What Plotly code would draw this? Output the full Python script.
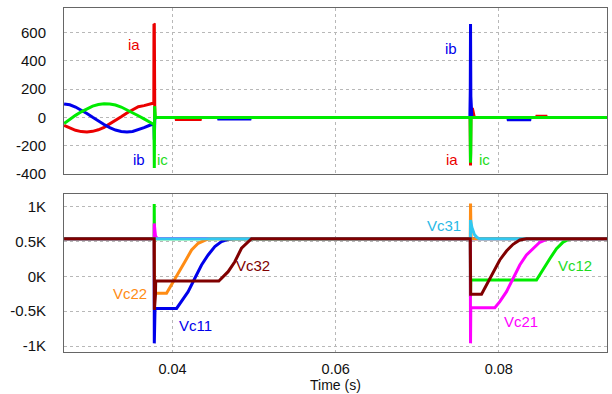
import plotly.graph_objects as go

# ---------------- Top panel: phase currents ----------------
t_ia = [0.0267, 0.0274, 0.0281, 0.0288, 0.0295, 0.0302, 0.0309, 0.0316, 0.0323, 0.0330,
        0.0337, 0.0344, 0.0351, 0.0358, 0.0365, 0.0372, 0.03770, 0.03772, 0.03776, 0.03782,
        0.0380, 0.0404, 0.04045, 0.0434, 0.04345, 0.07648, 0.07653, 0.07658, 0.07675, 0.0770,
        0.0846, 0.08465, 0.0858, 0.08585, 0.0933]
ia = [-56, -75, -91, -100, -103, -98, -87, -70, -47, -22,
      5, 32, 56, 76, 84, 92, 102, 662, 660, 5,
      0, 0, -14, -14, 0, 0, -340, 20, 66, 0,
      0, 8, 8, 0, 0]

t_ib = [0.0267, 0.0274, 0.0281, 0.0288, 0.0295, 0.0302, 0.0309, 0.0316, 0.0323, 0.0330,
        0.0337, 0.0344, 0.0351, 0.0358, 0.0365, 0.0372, 0.03772, 0.03776, 0.03782, 0.0380,
        0.0456, 0.04565, 0.0495, 0.04955, 0.07645, 0.07650, 0.07653, 0.07657, 0.0767,
        0.0811, 0.08115, 0.0838, 0.08385, 0.0858, 0.08585, 0.0880, 0.08805, 0.0933]
ib = [96, 90, 74, 53, 28, 1, -26, -50, -72, -89,
      -99, -103, -99, -88, -72, -55, -45, -158, -10, 0,
      0, -11, -11, 0, 0, 200, 662, 150, 0,
      0, -16, -16, 0, 0, -5, -5, 0, 0]

t_ic = [0.0267, 0.0274, 0.0281, 0.0288, 0.0295, 0.0302, 0.0309, 0.0316, 0.0323, 0.0330,
        0.0337, 0.0344, 0.0351, 0.0358, 0.0365, 0.0372, 0.03772, 0.03776, 0.03780, 0.03790,
        0.07648, 0.07652, 0.07656, 0.0766, 0.0933]
ic = [-42, -12, 15, 40, 62, 80, 92, 97, 96, 88,
      74, 55, 33, 12, -10, -30, -50, -358, 80, 0,
      0, -320, -250, 0, 0]

# ---------------- Bottom panel: capacitor voltages ----------------
t_vc11 = [0.0267, 0.03774, 0.03776, 0.03779, 0.03785, 0.04049, 0.0411, 0.04191, 0.04273,
          0.04355, 0.04436, 0.04518, 0.0460, 0.04681, 0.0475, 0.0933]
vc11 = [540, 540, -962, -460, -460, -460, -364, -220, -28,
        163, 307, 426, 498, 532, 540, 540]

t_vc12 = [0.0267, 0.03774, 0.03775, 0.03778, 0.0765, 0.07652, 0.07656, 0.08462, 0.08543,
          0.08625, 0.08707, 0.08788, 0.08849, 0.0889, 0.0933]
vc12 = [540, 540, 1040, 540, 540, -300, -52, -52, 110,
        253, 397, 492, 527, 540, 540]

t_vc21 = [0.0267, 0.03774, 0.03775, 0.0378, 0.0379, 0.0381, 0.0765, 0.07653, 0.07656,
          0.07951, 0.08012, 0.08094, 0.08175, 0.08257, 0.08339, 0.0842, 0.08502, 0.08584,
          0.0862, 0.0933]
vc21 = [540, 540, 760, 640, 580, 545, 540, -962, -450,
        -450, -364, -220, -28, 163, 307, 403, 489, 532,
        540, 540]

t_vc22 = [0.0267, 0.03774, 0.03776, 0.03780, 0.03926, 0.03988, 0.04069, 0.04151, 0.04233,
          0.04314, 0.04396, 0.04436, 0.0447, 0.07650, 0.07653, 0.07660, 0.0933]
vc22 = [540, 540, 100, -243, -243, -124, 44, 210, 378,
        475, 522, 537, 540, 540, 1044, 540, 540]

t_vc31 = [0.0267, 0.07652, 0.07653, 0.0767, 0.0770, 0.0773, 0.0776, 0.0933]
vc31 = [540, 540, 808, 700, 600, 560, 540, 540]

t_vc32 = [0.0267, 0.03775, 0.03777, 0.03790, 0.03793, 0.04567, 0.04681, 0.04763, 0.04845,
          0.04926, 0.04968, 0.07650, 0.07652, 0.07655, 0.07788, 0.07849, 0.0793, 0.08012,
          0.08094, 0.08175, 0.08257, 0.08339, 0.0933]
vc32 = [540, 540, -480, -270, -66, -66, 67, 210, 403,
        498, 540, 540, -258, -258, -258, -124, 67, 235,
        364, 460, 522, 540, 540]

x_ticks = [0.04, 0.06, 0.08]
x_ticktext = ["0.04", "0.06", "0.08"]
y1_ticks = [-400, -200, 0, 200, 400, 600]
y1_ticktext = ["-400", "-200", "0", "200", "400", "600"]
y2_ticks = [-1000, -500, 0, 500, 1000]
y2_ticktext = ["-1K", "-0.5K", "0K", "0.5K", "1K"]

RED = "rgb(235,0,0)"
BLUE = "rgb(0,0,235)"
GREEN = "rgb(0,235,0)"
MAGENTA = "rgb(255,0,255)"
ORANGE = "rgb(255,140,20)"
CYAN = "rgb(50,200,240)"
MAROON = "rgb(128,0,0)"

fig = go.Figure()
LW = 3
fig.add_trace(go.Scatter(x=t_ia, y=ia, mode="lines", line=dict(color=RED, width=LW), xaxis="x", yaxis="y"))
fig.add_trace(go.Scatter(x=t_ib, y=ib, mode="lines", line=dict(color=BLUE, width=LW), xaxis="x", yaxis="y"))
fig.add_trace(go.Scatter(x=t_ic, y=ic, mode="lines", line=dict(color=GREEN, width=LW), xaxis="x", yaxis="y"))

fig.add_trace(go.Scatter(x=t_vc11, y=vc11, mode="lines", line=dict(color=BLUE, width=LW), xaxis="x2", yaxis="y2"))
fig.add_trace(go.Scatter(x=t_vc12, y=vc12, mode="lines", line=dict(color=GREEN, width=LW), xaxis="x2", yaxis="y2"))
fig.add_trace(go.Scatter(x=t_vc21, y=vc21, mode="lines", line=dict(color=MAGENTA, width=LW), xaxis="x2", yaxis="y2"))
fig.add_trace(go.Scatter(x=t_vc22, y=vc22, mode="lines", line=dict(color=ORANGE, width=LW), xaxis="x2", yaxis="y2"))
fig.add_trace(go.Scatter(x=t_vc31, y=vc31, mode="lines", line=dict(color=CYAN, width=LW), xaxis="x2", yaxis="y2"))
fig.add_trace(go.Scatter(x=t_vc32, y=vc32, mode="lines", line=dict(color=MAROON, width=LW), xaxis="x2", yaxis="y2"))

FONT = "Liberation Sans, Arial, sans-serif"
grid = dict(showgrid=True, gridcolor="#b8b8b8", griddash="dot", gridwidth=1,
            showline=True, mirror=True, linecolor="#666666", linewidth=1, zeroline=False,
            automargin=False)
xrange = [0.02669, 0.09326]

fig.update_layout(
    width=612, height=394,
    margin=dict(l=0, r=0, t=0, b=0, autoexpand=False),
    paper_bgcolor="white", plot_bgcolor="white",
    showlegend=False,
    font=dict(family=FONT, size=15, color="#111111"),
    xaxis=dict(domain=[0.1046, 0.9918], range=xrange, anchor="y", tickvals=x_ticks,
               showticklabels=False, ticks="", **grid),
    yaxis=dict(domain=[0.5584, 0.9797], range=[-400, 775], anchor="x", tickvals=y1_ticks,
               ticktext=y1_ticktext, ticks="outside", ticklen=14, tickcolor="rgba(0,0,0,0)",
               tickfont=dict(size=15), **grid),
    xaxis2=dict(domain=[0.1046, 0.9918], range=xrange, anchor="y2", tickvals=x_ticks,
                ticktext=x_ticktext, ticks="outside", ticklen=4, tickcolor="rgba(0,0,0,0)",
                tickfont=dict(size=14.5), **grid),
    yaxis2=dict(domain=[0.1066, 0.5076], range=[-1086, 1182], anchor="x2", tickvals=y2_ticks,
                ticktext=y2_ticktext, ticks="outside", ticklen=14, tickcolor="rgba(0,0,0,0)",
                tickfont=dict(size=15), **grid),
)

labels_top = [
    ("ia", 0.03532, 514, RED), ("ib", 0.03593, -299, BLUE), ("ic", 0.03880, -299, "rgb(30,220,30)"),
    ("ib", 0.07418, 491, BLUE), ("ia", 0.07430, -299, RED), ("ic", 0.07830, -299, "rgb(30,220,30)"),
]
for txt, xx, yy, col in labels_top:
    fig.add_annotation(x=xx, y=yy, xref="x", yref="y", text=txt, showarrow=False,
                       font=dict(size=15, color=col, family=FONT))

labels_bot = [
    ("Vc22", 0.03477, -243, ORANGE), ("Vc11", 0.04277, -699, BLUE), ("Vc32", 0.04987, 149, MAROON),
    ("Vc31", 0.07333, 727, "rgb(40,185,230)"), ("Vc12", 0.08934, 149, "rgb(30,220,30)"),
    ("Vc21", 0.08275, -651, MAGENTA),
]
for txt, xx, yy, col in labels_bot:
    fig.add_annotation(x=xx, y=yy, xref="x2", yref="y2", text=txt, showarrow=False,
                       font=dict(size=15, color=col, family=FONT))

fig.add_annotation(x=0.5474, y=0.0, xref="paper", yref="paper", text="Time (s)",
                   showarrow=False, xanchor="center", yanchor="bottom", borderpad=0,
                   font=dict(size=14, color="#111111", family=FONT))

fig.write_html("out.html")
